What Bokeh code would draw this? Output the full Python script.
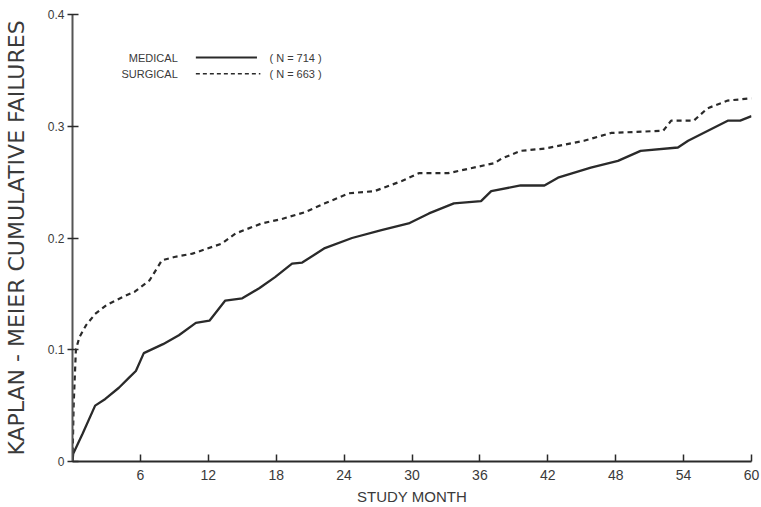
from bokeh.plotting import figure
from bokeh.models import FixedTicker, Range1d
from bokeh.core.properties import value
from bokeh.embed import file_html
from bokeh.resources import INLINE

# Kaplan-Meier cumulative failures
medical_month = [0, 0.06, 0.9, 2.0, 2.9, 4.1, 5.0, 5.6, 6.3, 8.0,
                 9.4, 10.9, 12.1, 13.5, 15.0, 16.5, 17.9, 19.4, 20.3, 22.3,
                 24.7, 27.3, 29.7, 31.5, 33.7, 36.1, 37.0, 39.6, 41.7, 42.9,
                 45.8, 48.2, 50.2, 53.5, 54.4, 57.9, 59.0, 60.0]
medical_fail = [0, 0.007, 0.025, 0.050, 0.056, 0.066, 0.075, 0.081, 0.097, 0.105,
                0.113, 0.124, 0.126, 0.144, 0.146, 0.155, 0.165, 0.177, 0.178, 0.191,
                0.200, 0.207, 0.213, 0.222, 0.231, 0.233, 0.242, 0.247, 0.247, 0.254,
                0.263, 0.269, 0.278, 0.281, 0.287, 0.305, 0.305, 0.309]

surgical_month = [0, 0.1, 0.3, 0.6, 1.2, 2.0, 3.0, 4.4, 5.5, 6.8,
                  7.9, 9.0, 10.6, 13.2, 14.4, 16.7, 18.5, 20.5, 22.3, 24.4,
                  26.7, 29.1, 30.6, 33.2, 35.0, 37.3, 37.9, 39.6, 41.7, 45.2,
                  47.6, 52.2, 52.9, 54.9, 56.1, 57.9, 60.0]
surgical_fail = [0, 0.050, 0.100, 0.111, 0.122, 0.132, 0.140, 0.147, 0.152, 0.162,
                 0.180, 0.183, 0.186, 0.195, 0.204, 0.213, 0.217, 0.223, 0.231, 0.240,
                 0.242, 0.251, 0.258, 0.258, 0.262, 0.267, 0.271, 0.278, 0.280, 0.287,
                 0.294, 0.296, 0.305, 0.305, 0.316, 0.323, 0.325]

x_ticks = [6, 12, 18, 24, 30, 36, 42, 48, 54, 60]
y_ticks = [0, 0.1, 0.2, 0.3, 0.4]
y_tick_labels = ["0", "0.1", "0.2", "0.3", "0.4"]

series_names = ["MEDICAL", "SURGICAL"]
series_n = ["( N = 714 )", "( N = 663 )"]

FONT = "Liberation Sans"
INK = "#2a2a2a"
TXT = "#3a3a3a"

p = figure(width=761, height=507, output_backend="svg", toolbar_location=None,
           x_range=Range1d(0, 60), y_range=Range1d(0, 0.4),
           min_border_left=70, min_border_right=10, min_border_top=14, min_border_bottom=46)
p.background_fill_color = "white"
p.border_fill_color = "white"
p.outline_line_color = None
p.grid.visible = False

# curves
p.line(medical_month, medical_fail, line_color=INK, line_width=2.3)
p.line(surgical_month, surgical_fail, line_color=INK, line_width=2.2, line_dash="5 4")

# x axis
xa = p.xaxis[0]
xa.ticker = FixedTicker(ticks=x_ticks)
xa.axis_label = "STUDY MONTH"
xa.axis_line_color = INK
xa.axis_line_width = 2
xa.major_tick_in = 7
xa.major_tick_out = 0
xa.major_tick_line_color = INK
xa.major_tick_line_width = 1.5
xa.minor_tick_line_color = None
xa.major_label_text_font = FONT
xa.major_label_text_font_size = "14px"
xa.major_label_text_color = TXT
xa.major_label_standoff = 8
xa.axis_label_text_font = FONT
xa.axis_label_text_font_size = "15px"
xa.axis_label_text_font_style = "normal"
xa.axis_label_text_color = TXT
xa.axis_label_standoff = 5

# y axis
ya = p.yaxis[0]
ya.ticker = FixedTicker(ticks=y_ticks)
ya.major_label_overrides = {t: l for t, l in zip(y_ticks, y_tick_labels)}
ya.axis_label = "KAPLAN - MEIER CUMULATIVE FAILURES"
ya.axis_line_color = "#555555"
ya.axis_line_width = 2
ya.major_tick_in = 6
ya.major_tick_out = 5
ya.major_tick_line_color = INK
ya.major_tick_line_width = 1.5
ya.minor_tick_line_color = None
ya.major_label_text_font = FONT
ya.major_label_text_font_size = "12px"
ya.major_label_text_color = TXT
ya.major_label_standoff = 3
ya.axis_label_text_font = "DejaVu Sans"
ya.axis_label_text_font_size = "22px"
ya.axis_label_text_font_style = "normal"
ya.axis_label_text_color = TXT
ya.axis_label_standoff = 16

# legend (drawn in the upper-left corner)
rows_y = [0.3615, 0.347]
p.text(x=[9.3, 9.3], y=rows_y, text=series_names, text_align="right",
       text_baseline="middle", text_font=value(FONT), text_font_size="11px",
       text_color=TXT)
p.segment(x0=[10.9], y0=[rows_y[0]], x1=[16.3], y1=[rows_y[0]],
          line_color=INK, line_width=1.8)
p.segment(x0=[10.9], y0=[rows_y[1]], x1=[16.6], y1=[rows_y[1]],
          line_color=INK, line_width=1.6, line_dash="4 3")
p.text(x=[17.4, 17.4], y=rows_y, text=series_n, text_align="left",
       text_baseline="middle", text_font=value(FONT), text_font_size="11px",
       text_color=TXT)

open("out.html", "w").write(file_html(p, INLINE))
